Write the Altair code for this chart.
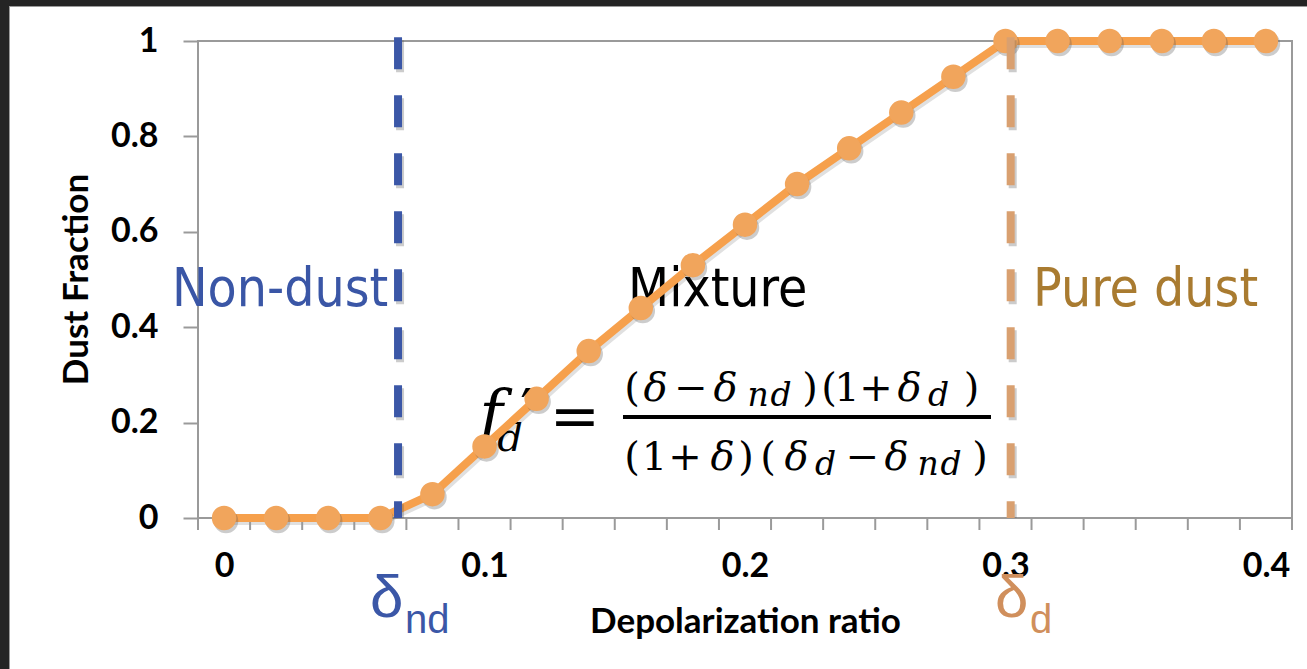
import altair as alt
import pandas as pd

# ---------------- data ----------------
depolarization = [0.00, 0.02, 0.04, 0.06, 0.08, 0.10, 0.12, 0.14, 0.16, 0.18, 0.20,
                  0.22, 0.24, 0.26, 0.28, 0.30, 0.32, 0.34, 0.36, 0.38, 0.40]
dust_fraction = [0, 0, 0, 0, 0.05, 0.15, 0.25, 0.35, 0.44, 0.53, 0.615,
                 0.70, 0.775, 0.85, 0.925, 1, 1, 1, 1, 1, 1]
x_tick_labels = [0, 0.1, 0.2, 0.3, 0.4]
y_tick_labels = [0, 0.2, 0.4, 0.6, 0.8, 1]
category_edges = [-0.01, 0.01, 0.03, 0.05, 0.07, 0.09, 0.11, 0.13, 0.15, 0.17, 0.19,
                  0.21, 0.23, 0.25, 0.27, 0.29, 0.31, 0.33, 0.35, 0.37, 0.39, 0.41]
delta_nd = 0.0668
delta_d = 0.302

region_labels = ["Non-dust", "Mixture", "Pure dust"]
region_x = [-0.020, 0.1551, 0.3106]
region_colors = ["#3A56A6", "#000000", "#A97B30"]

# formula glyphs: (text, x)
num_upright = [("(", 0.15662), ("\u2212", 0.17927), (")", 0.22495), ("(", 0.23225),
               ("1", 0.23916), ("+", 0.25029), (")", 0.28696)]
num_italic = [("\u03b4", 0.16564), ("\u03b4", 0.19251), ("\u03b4", 0.26316)]
num_sub = [("n", 0.2050), ("d", 0.2138), ("d", 0.27429)]
den_upright = [("(", 0.15662), ("1", 0.16526), ("+", 0.17697), (")", 0.20038),
               ("(", 0.20883), ("\u2212", 0.24511), (")", 0.29022)]
den_italic = [("\u03b4", 0.19136), ("\u03b4", 0.21977), ("\u03b4", 0.25816)]
den_sub = [("d", 0.23090), ("n", 0.2703), ("d", 0.2791)]
num_y, num_sub_y = 0.2453, 0.2348
den_y, den_sub_y = 0.1006, 0.0901

X_DOMAIN = [-0.01, 0.41]

df = pd.DataFrame({"x": depolarization, "y": dust_fraction})
xs = alt.Scale(domain=X_DOMAIN, nice=False, zero=False)
ys = alt.Scale(domain=[0, 1], nice=False)

LINE_COLOR = "#F6A04C"
MARK_COLOR = "#F1A55C"
BLUE = "#3B57A7"
TAN = "#D9A070"
MATH_FONT = "DejaVu Serif"
AXIS_FONT = "Lato"

x_axis = alt.Axis(values=x_tick_labels, labelExpr="format(datum.value, '~g')",
                  ticks=False, tickSize=0, domain=False, grid=False,
                  labelFont=AXIS_FONT, labelFontWeight="bold", labelFontSize=34,
                  labelColor="black", labelBaseline="middle", labelPadding=48,
                  labelFlush=False,
                  title="Depolarization ratio", titleFont=AXIS_FONT, titleFontWeight="bold",
                  titleFontSize=35, titleColor="black", titleX=547, titleY=103,
                  titleBaseline="middle", titleAlign="center")
y_axis = alt.Axis(values=y_tick_labels, labelExpr="format(datum.value, '~g')",
                  ticks=True, tickSize=15, tickColor="#9a9a9a", tickWidth=2,
                  domain=False, grid=False,
                  labelFont=AXIS_FONT, labelFontWeight="bold", labelFontSize=34,
                  labelColor="black", labelPadding=25, labelFlush=False,
                  title="Dust Fraction", titleFont=AXIS_FONT, titleFontWeight="bold",
                  titleFontSize=35, titleColor="black", titleX=-122, titleY=238,
                  titleAngle=270, titleBaseline="middle", titleAlign="center")

X = alt.X("x:Q", scale=xs, axis=x_axis)
Y = alt.Y("y:Q", scale=ys, axis=y_axis)

base = alt.Chart(df)

line_shadow = base.mark_line(color="#555555", strokeWidth=8, opacity=0.18,
                             xOffset=2, yOffset=3).encode(x=X, y=Y)
line = base.mark_line(color=LINE_COLOR, strokeWidth=8).encode(x=X, y=Y)
pt_shadow = base.mark_point(filled=True, shape="circle", size=600, color="#555555",
                            opacity=0.3, xOffset=2, yOffset=3).encode(x=X, y=Y)
points = base.mark_point(filled=True, shape="circle", size=600, color=MARK_COLOR,
                         opacity=1).encode(x=X, y=Y)

# bottom category tick marks
edges_df = pd.DataFrame({"x": category_edges})
edge_ticks = alt.Chart(edges_df).mark_rule(color="#9a9a9a", strokeWidth=2).encode(
    x=X, y=alt.value(477), y2=alt.value(489))

# dashed vertical lines
def vline(xv, color):
    d = pd.DataFrame({"x": [xv], "y": [1.008], "y2": [0]})
    sh = alt.Chart(d).mark_rule(color="#555555", opacity=0.3, strokeWidth=8,
                                strokeDash=[32, 26], xOffset=2, yOffset=3).encode(
        x=X, y=Y, y2="y2:Q")
    ln = alt.Chart(d).mark_rule(color=color, strokeWidth=8, strokeDash=[32, 26]).encode(
        x=X, y=Y, y2="y2:Q")
    return [sh, ln]

# region labels
REGION_FONT = "Liberation Sans Narrow, DejaVu Sans Condensed, Roboto Condensed, Arial Narrow, Liberation Sans"
region_layers = []
for t, xv, c in zip(region_labels, region_x, region_colors):
    d = pd.DataFrame({"x": [xv], "y": [0.4444], "t": [t]})
    region_layers.append(alt.Chart(d).mark_text(
        align="left", baseline="alphabetic", font=REGION_FONT,
        fontSize=53, color=c).encode(x=X, y=Y, text="t:N"))

# delta labels below axis
def delta_label(xd, xs_sub, color, sub):
    d1 = pd.DataFrame({"x": [xd], "y": [-0.2075], "t": ["\u03b4"]})
    d2 = pd.DataFrame({"x": [xs_sub], "y": [-0.2411], "t": [sub]})
    a = alt.Chart(d1).mark_text(align="left", baseline="alphabetic", font="Liberation Sans",
                                fontSize=60, color=color).encode(x=X, y=Y, text="t:N")
    b = alt.Chart(d2).mark_text(align="left", baseline="alphabetic", font="Liberation Sans",
                                fontSize=40, color=color).encode(x=X, y=Y, text="t:N")
    return [a, b]

# formula
def pieces(items, yv, size, style):
    d = pd.DataFrame({"t": [p[0] for p in items], "x": [p[1] for p in items],
                      "y": [yv] * len(items)})
    return alt.Chart(d).mark_text(align="center", baseline="alphabetic",
                                  font=MATH_FONT, fontSize=size,
                                  fontStyle=style, color="black").encode(x=X, y=Y, text="t:N")

formula_layers = [
    pieces(num_upright, num_y, 40, "normal"),
    pieces(num_italic, num_y, 40, "italic"),
    pieces(num_sub, num_sub_y, 33, "italic"),
    pieces(den_upright, den_y, 40, "normal"),
    pieces(den_italic, den_y, 40, "italic"),
    pieces(den_sub, den_sub_y, 33, "italic"),
    pieces([("f", 0.10249)], 0.1719, 64, "italic"),
    pieces([("d", 0.10978)], 0.1405, 40, "italic"),
    pieces([("=", 0.13474)], 0.1719, 60, "normal"),
]
prime = pieces([("\u2032", 0.1160)], 0.195, 50, "normal")
bar_df = pd.DataFrame({"x": [0.15316], "x2": [0.29444], "y": [0.2117]})
frac_bar = alt.Chart(bar_df).mark_rule(color="black", strokeWidth=4).encode(
    x=X, x2="x2:Q", y=Y)

# dark frame at left and top edges
one = pd.DataFrame({"a": [0]})
frame_left = alt.Chart(one).mark_rect(color="#242424").encode(
    x=alt.value(-198), x2=alt.value(-189), y=alt.value(-41), y2=alt.value(628))
frame_top = alt.Chart(one).mark_rect(color="#242424").encode(
    x=alt.value(-198), x2=alt.value(1109), y=alt.value(-41), y2=alt.value(-35))
frame_edge = alt.Chart(one).mark_rule(color="#9a9a9a", strokeWidth=1).encode(
    x=alt.value(-188.5), y=alt.value(-35), y2=alt.value(628))
frame_edge2 = alt.Chart(one).mark_rule(color="#9a9a9a", strokeWidth=1).encode(
    x=alt.value(-189), x2=alt.value(1109), y=alt.value(-34.5))

layers = ([line_shadow, frame_left, frame_top, frame_edge, frame_edge2, edge_ticks]
          + region_layers + formula_layers + [frac_bar]
          + delta_label(0.05603, 0.06947, BLUE, "nd")
          + delta_label(0.2960, 0.3094, "#D08F5C", "d")
          + [line, pt_shadow, points, prime]
          + vline(delta_nd, BLUE) + vline(delta_d, TAN))

chart = alt.layer(*layers).properties(
    width=1094, height=477,
    padding={"left": 198, "top": 41, "right": 15, "bottom": 151},
    autosize=alt.AutoSizeParams(type="none"),
    background="white",
).configure_view(stroke="#9a9a9a", strokeWidth=2, fill="white")

chart.save("out.html", embed_options={"renderer": "svg", "actions": False})
